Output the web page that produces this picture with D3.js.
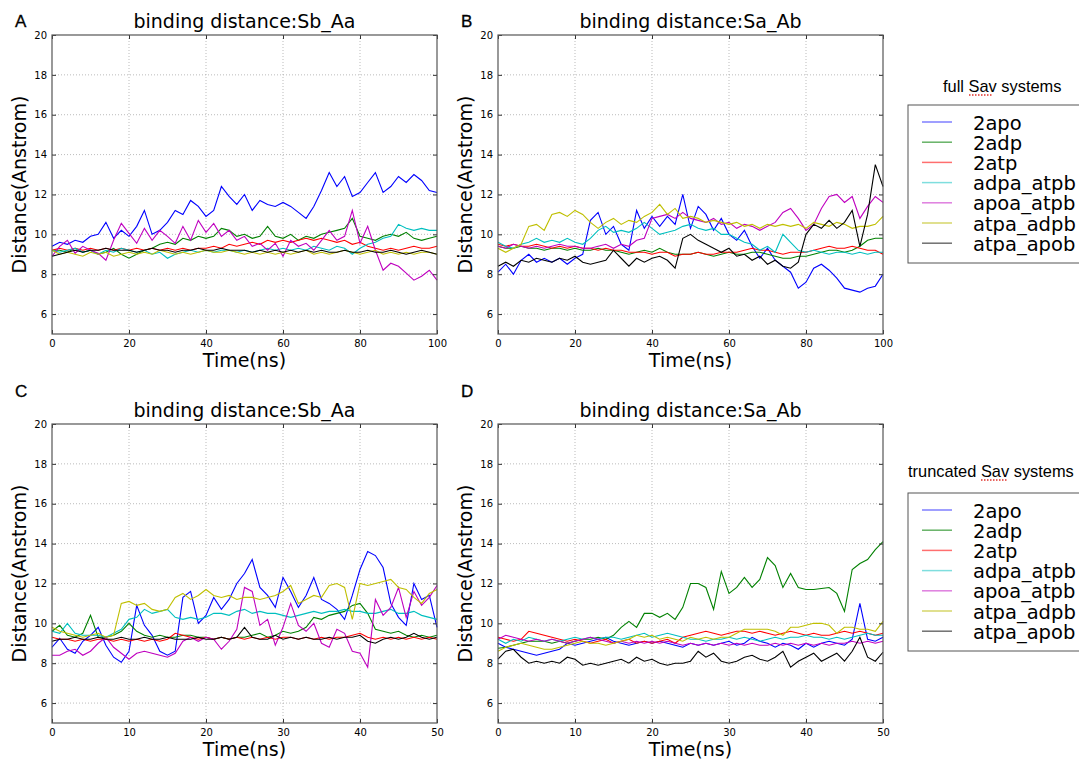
<!DOCTYPE html>
<html>
<head>
<meta charset="utf-8">
<script src="https://cdn.jsdelivr.net/npm/d3@7"></script>
<style>
  body { margin: 0; background: #fff; }
  svg text { font-family: "DejaVu Sans", sans-serif; fill: #000; }
  .letter { font-family: "Liberation Sans", Arial, sans-serif; font-size: 17px; stroke: #000; stroke-width: 0.3px; }
  .legtitle { font-family: "Liberation Sans", Arial, sans-serif; font-size: 16.4px; }
</style>
</head>
<body>
<div id="chart"></div>
<script>

var seriesNames = ["2apo", "2adp", "2atp", "adpa_atpb", "apoa_atpb", "atpa_adpb", "atpa_apob"];
var colors = ["#0000ff", "#008000", "#ff0000", "#00bfbf", "#bf00bf", "#bfbf00", "#000000"];
var legendColors = ["#7f7fff", "#66b266", "#ff6f6f", "#7fdede", "#df7fdf", "#d6d66a", "#6f6f6f"];

var yTicks = [6, 8, 10, 12, 14, 16, 18, 20];
var xTicksFull = [0, 20, 40, 60, 80, 100];
var xTicksTrunc = [0, 10, 20, 30, 40, 50];

// sample times: every 2 ns for the 100 ns runs, every 1 ns for the 50 ns runs
var timeFull = d3.range(0, 101, 2);
var timeTrunc = d3.range(0, 51, 1);

// A: full Sav, Sb_Aa
var A_2apo = [9.4,9.6,9.5,9.7,9.6,9.9,10.0,10.6,9.8,10.2, 9.9,10.4,11.2,10.0,10.2,10.6,11.2,11.0,11.7,11.4, 10.9,11.2,12.4,11.9,11.5,12.0,11.2,11.7,11.5,11.4, 11.6,11.4,11.1,10.8,11.4,12.2,13.1,12.4,12.9,11.9, 12.1,12.6,13.1,12.1,12.4,12.9,12.6,13.0,12.7,12.2,12.1];
var A_2adp = [9.2,9.2,9.1,9.3,9.1,9.2,9.0,9.1,9.3,9.0, 8.8,9.0,9.2,9.3,9.5,9.6,9.5,9.8,9.7,9.9, 9.8,9.9,10.3,10.2,9.9,10.0,9.8,9.9,10.4,9.9, 9.8,10.0,9.7,9.9,9.8,10.0,10.1,10.2,10.3,10.8, 9.9,9.8,9.7,9.9,10.0,9.9,10.1,9.8,9.7,9.8,9.9];
var A_2atp = [9.2,9.3,9.2,9.3,9.2,9.3,9.2,9.3,9.2,9.3, 9.2,9.3,9.2,9.3,9.2,9.3,9.2,9.3,9.2,9.3, 9.3,9.4,9.3,9.5,9.4,9.5,9.6,9.5,9.7,9.6, 9.7,9.6,9.7,9.8,9.7,9.8,9.7,9.6,9.7,9.5, 9.6,9.4,9.3,9.2,9.3,9.2,9.3,9.4,9.3,9.3,9.4];
var A_adpa = [9.2,9.1,9.2,9.3,9.1,9.2,9.0,9.2,9.1,9.3, 9.2,9.1,9.2,9.0,9.1,8.8,9.0,9.1,9.2,9.1, 9.2,9.1,9.2,9.2,9.1,9.2,9.1,9.2,9.3,9.2, 9.3,9.2,9.3,9.2,9.4,9.3,9.2,9.4,9.3,9.0, 9.3,9.5,9.6,9.8,9.9,10.5,10.3,10.2,10.3,10.2,10.2];
var A_apoa = [8.9,9.4,9.7,9.05,9.4,9.2,9.05,8.7,9.7,10.55, 10.05,9.55,10.3,9.7,10.2,9.9,9.55,10.4,9.7,10.7, 10.1,10.55,9.9,10.2,9.7,9.9,9.4,9.55,9.2,9.55, 8.9,9.7,9.4,9.55,9.2,9.7,10.2,9.7,9.9,11.2, 9.55,10.4,9.2,8.2,8.55,8.4,8.05,7.7,7.9,8.2,7.7];
var A_atpadp = [9.2,9.0,9.1,9.0,8.9,9.1,9.0,9.1,8.9,9.0, 9.1,9.0,9.1,9.0,9.2,9.1,9.0,9.1,9.0,9.1, 9.2,9.1,9.1,9.2,9.1,9.0,9.1,9.0,9.1,9.0, 9.1,9.0,9.1,9.2,9.0,9.1,9.0,9.1,9.2,9.1, 9.0,9.1,9.2,9.0,9.1,9.0,9.1,9.0,9.1,9.1,9.0];
var A_atpapo = [8.9,9.0,9.1,9.2,9.1,9.2,9.2,9.3,9.2,9.2, 9.2,9.1,9.2,9.3,9.2,9.2,9.1,9.2,9.2,9.3, 9.2,9.2,9.3,9.2,9.2,9.2,9.1,9.2,9.1,9.2, 9.1,9.2,9.1,9.2,9.1,9.2,9.1,9.1,9.2,9.1, 9.1,9.2,9.1,9.1,9.2,9.1,9.0,9.1,9.2,9.1,9.0];

// B: full Sav, Sa_Ab
var B_2apo = [8.1,8.5,8.0,8.7,9.0,8.6,8.8,8.6,8.8,8.5, 8.8,9.0,10.7,11.1,10.0,10.4,9.5,9.2,11.2,10.3, 10.9,10.4,10.9,10.5,12.0,10.3,11.4,11.0,10.2,10.8, 10.0,9.7,10.2,9.4,8.8,9.3,8.7,8.4,8.1,7.3, 7.6,8.3,8.5,8.2,7.8,7.3,7.2,7.1,7.3,7.4,8.0];
var B_2adp = [9.4,9.3,9.3,9.4,9.3,9.3,9.2,9.3,9.3,9.2, 9.3,9.2,9.2,9.3,9.2,9.2,9.1,9.0,9.1,9.2, 9.1,9.3,9.1,9.0,9.0,9.0,9.1,9.0,8.9,9.0, 9.1,9.0,9.0,9.1,9.1,9.0,8.9,8.8,8.8,8.9, 8.9,9.0,9.1,9.2,9.2,9.1,9.2,9.4,9.7,9.8,9.8];
var B_2atp = [9.5,9.4,9.5,9.4,9.4,9.5,9.4,9.3,9.4,9.3, 9.4,9.3,9.3,9.2,9.3,9.2,9.2,9.1,9.1,9.1, 9.0,9.1,9.1,8.9,9.0,9.0,9.1,9.0,9.0,9.1, 9.1,9.1,9.2,9.3,9.2,9.2,9.1,9.0,9.1,9.1, 9.1,9.2,9.3,9.4,9.3,9.3,9.4,9.3,9.2,9.2,9.0];
var B_adpa = [9.6,9.4,9.3,9.5,9.6,9.8,9.6,9.7,9.6,9.8, 9.6,9.5,9.8,10.2,10.4,10.1,10.2,10.1,10.3,10.6, 10.3,10.0,10.1,10.2,10.4,10.5,10.3,10.2,10.3,10.0, 10.0,9.8,9.6,9.5,9.2,9.4,9.1,10.0,9.6,9.2, 9.1,9.2,9.1,9.0,9.1,9.1,9.0,9.1,9.0,9.1,9.1];
var B_apoa = [9.4,9.3,9.5,9.4,9.3,9.4,9.3,9.4,9.5,9.4, 9.4,9.3,9.3,9.4,9.5,9.3,9.5,9.4,9.7,9.8, 10.8,10.9,11.0,10.8,11.1,10.8,10.7,10.6,10.8,10.5, 10.6,10.3,10.5,10.4,10.2,10.4,10.6,11.1,11.3,10.8, 10.2,10.5,11.3,11.9,12.0,11.6,11.9,10.8,11.4,11.9,11.6];
var B_atpadp = [9.3,9.1,9.3,9.5,10.4,10.5,10.2,11.0,11.1,10.9, 11.2,11.0,10.6,10.3,10.6,10.8,10.5,10.7,10.6,10.9, 11.1,11.5,11.0,11.3,10.8,10.9,10.8,10.6,10.7,10.6, 10.5,10.6,10.4,10.5,10.3,10.5,10.4,10.5,10.4,10.5, 10.3,10.6,10.5,10.4,10.6,10.5,10.3,10.4,10.4,10.5,10.9];
var B_atpapo = [8.4,8.6,8.4,8.7,8.6,8.8,8.7,8.6,8.8,8.7, 8.9,8.6,8.5,8.6,8.7,9.2,8.8,8.4,8.8,8.6, 8.8,8.9,8.7,8.3,9.8,10.0,9.7,9.5,9.3,9.1, 9.3,8.9,9.0,8.7,8.9,8.5,8.7,8.4,8.3,8.6, 10.0,10.5,10.3,10.7,10.3,10.6,11.2,9.4,11.0,13.5,12.4];

// C: truncated Sav, Sb_Aa
var C_2apo = [8.8,9.25,8.7,8.5,9.1,9.4,9.8,8.9,8.3,8.05, 8.6,10.9,9.9,9.4,8.6,8.4,8.6,11.3,11.6,10.0, 10.4,11.3,10.7,11.2,12.0,12.5,13.2,11.8,11.4,10.8, 12.3,11.6,10.8,11.4,12.3,11.2,11.0,10.7,10.2,11.4, 12.7,13.6,13.4,12.8,11.0,10.3,9.9,12.0,11.2,11.4,9.8];
var C_2adp = [9.6,9.9,9.4,9.3,9.5,10.4,9.3,9.3,9.4,9.6, 10.0,9.6,9.4,9.3,9.4,9.3,9.3,9.4,9.4,9.3, 9.3,9.2,9.3,9.2,9.3,9.3,9.4,9.5,9.3,9.4, 9.6,9.5,9.6,9.8,10.3,10.2,10.4,10.5,10.6,10.9, 11.0,10.5,9.7,9.6,9.5,9.6,9.4,9.3,9.4,9.3,9.4];
var C_2atp = [9.3,9.2,9.2,9.1,9.2,9.1,9.2,9.2,9.1,9.2, 9.1,9.2,9.1,9.2,9.1,9.2,9.5,9.4,9.3,9.2, 9.3,9.2,9.3,9.2,9.3,9.2,9.3,9.2,9.3,9.2, 9.3,9.3,9.2,9.3,9.2,9.3,9.2,9.3,9.3,9.4, 9.5,9.3,9.2,9.3,9.2,9.3,9.2,9.3,9.2,9.3,9.2];
var C_adpa = [9.6,9.5,10.0,9.5,9.4,9.4,9.4,9.3,9.5,9.7, 10.2,10.3,10.7,10.5,10.6,10.7,10.3,10.2,10.3,10.2, 10.3,10.5,10.5,10.4,10.6,10.7,10.5,10.6,10.5,10.5, 10.4,10.3,10.4,10.5,10.6,10.5,10.6,10.6,10.7,10.6, 10.6,10.5,10.5,10.6,10.7,10.5,10.5,10.6,10.4,10.3,10.2];
var C_apoa = [8.4,8.4,8.6,8.7,8.4,8.6,9.0,9.3,8.8,8.5, 8.2,8.5,8.6,8.5,8.4,8.3,8.5,9.1,9.3,9.1, 9.3,9.2,8.7,9.1,9.7,11.8,11.6,9.9,10.2,8.9, 9.8,11.0,9.9,9.6,10.0,9.0,8.8,9.7,9.5,8.6, 8.5,7.8,11.2,10.4,10.8,11.8,10.3,11.6,10.9,11.3,11.9];
var C_atpadp = [9.8,9.6,9.5,9.4,9.3,9.4,9.5,9.3,9.4,11.0, 11.1,10.9,11.0,10.7,10.6,10.7,11.3,11.5,11.2,11.4, 11.7,11.4,11.3,11.4,11.2,11.3,11.3,11.2,11.3,11.4, 11.6,11.9,11.0,11.2,11.4,11.3,11.9,12.0,11.8,10.2, 12.0,11.9,12.0,12.1,12.2,11.8,11.7,11.3,11.0,11.5,11.7];
var C_atpapo = [9.1,9.2,9.2,9.3,9.2,9.2,9.3,9.2,9.2,9.3, 9.2,9.2,9.3,9.2,9.2,9.3,9.2,9.2,9.2,9.3, 9.2,9.2,9.3,9.2,9.3,9.8,9.3,9.2,9.2,9.4, 9.2,9.3,9.2,9.3,9.2,9.2,9.3,9.2,9.3,9.3, 9.4,9.1,9.0,9.2,9.3,9.2,9.3,9.5,9.3,9.2,9.3];

// D: truncated Sav, Sa_Ab
var D_2apo = [9.0,8.8,8.7,8.6,8.5,8.4,8.5,8.6,8.7,9.0, 8.9,9.0,9.1,9.2,9.3,9.1,9.0,8.9,9.0,9.1, 9.0,9.1,9.0,8.9,8.8,9.0,8.9,9.0,8.9,9.0, 9.1,8.9,9.0,9.3,9.1,9.0,8.8,9.0,8.9,8.7, 9.0,8.8,9.0,9.1,9.0,8.9,9.2,11.0,9.2,9.1,9.3];
var D_2adp = [8.75,8.8,8.9,9.0,9.1,9.1,9.1,9.0,9.1,9.0, 9.1,9.2,9.2,9.3,9.2,9.4,9.8,10.1,9.8,10.5, 10.5,10.3,10.5,10.2,10.8,12.0,12.0,11.8,10.7,12.6, 11.5,11.8,12.3,11.8,12.2,13.3,12.9,11.8,12.5,11.8, 11.7,11.7,11.75,11.8,11.5,10.6,12.7,13.0,13.2,13.7,14.1];
var D_2atp = [9.3,9.2,9.1,9.2,9.6,9.5,9.4,9.3,9.2,9.1, 9.2,9.1,9.0,9.1,9.2,9.0,9.1,9.2,9.0,9.1, 9.0,9.1,9.2,9.0,9.3,9.4,9.5,9.6,9.5,9.4, 9.5,9.6,9.6,9.5,9.6,9.5,9.4,9.5,9.6,9.5, 9.4,9.5,9.4,9.4,9.5,9.6,9.5,9.6,9.5,9.4,9.5];
var D_adpa = [9.2,9.0,9.2,9.1,9.3,9.2,9.1,9.2,9.1,9.2, 9.3,9.2,9.3,9.2,9.3,9.3,9.2,9.3,9.4,9.5, 9.3,9.4,9.5,9.4,9.3,9.2,9.2,9.1,9.2,9.2, 9.3,9.2,9.3,9.2,9.1,9.2,9.3,9.2,9.3,9.3, 9.4,9.3,9.3,9.2,9.3,9.2,9.3,9.4,9.5,9.4,9.4];
var D_apoa = [9.2,9.4,9.3,9.2,9.1,9.2,9.1,9.2,9.1,9.0, 9.1,9.2,9.3,9.2,9.1,9.0,9.1,9.0,9.1,9.0, 9.1,9.0,9.1,9.0,8.9,9.0,8.9,9.0,8.9,9.0, 8.9,9.0,8.9,9.0,8.9,8.9,9.0,8.9,9.0,8.9, 9.0,8.9,9.0,8.9,9.0,9.0,9.1,9.0,9.1,9.0,9.1];
var D_atpadp = [8.6,8.8,8.9,9.0,8.9,8.8,8.7,8.7,8.8,8.9, 9.0,9.1,9.0,9.0,8.9,9.0,9.1,9.2,9.4,9.3, 9.4,9.2,9.3,9.2,9.1,9.3,9.2,9.3,9.2,9.3, 9.3,9.5,9.7,9.7,9.7,9.7,9.6,9.4,9.8,9.8, 9.9,10.0,10.0,9.9,9.5,9.8,9.8,9.7,9.7,9.6,10.1];
var D_atpapo = [8.2,8.6,8.7,8.3,8.0,8.1,8.0,8.1,8.0,8.3, 8.2,7.9,8.0,7.9,8.0,8.1,8.2,8.0,8.3,8.1, 8.2,8.0,7.9,8.0,8.0,8.1,8.6,8.3,8.5,8.1, 8.0,8.1,8.3,8.4,8.2,8.1,8.3,8.6,7.8,8.1, 8.3,8.5,8.1,8.3,8.5,8.1,8.6,9.3,8.3,8.1,8.55];

var panels = [
  { letter: "A", title: "binding distance:Sb_Aa", left: 52,  top: 35,  time: timeFull,  xTicks: xTicksFull,
    series: [A_2apo, A_2adp, A_2atp, A_adpa, A_apoa, A_atpadp, A_atpapo] },
  { letter: "B", title: "binding distance:Sa_Ab", left: 498, top: 35,  time: timeFull,  xTicks: xTicksFull,
    series: [B_2apo, B_2adp, B_2atp, B_adpa, B_apoa, B_atpadp, B_atpapo] },
  { letter: "C", title: "binding distance:Sb_Aa", left: 52,  top: 424, time: timeTrunc, xTicks: xTicksTrunc,
    series: [C_2apo, C_2adp, C_2atp, C_adpa, C_apoa, C_atpadp, C_atpapo] },
  { letter: "D", title: "binding distance:Sa_Ab", left: 498, top: 424, time: timeTrunc, xTicks: xTicksTrunc,
    series: [D_2apo, D_2adp, D_2atp, D_adpa, D_apoa, D_atpadp, D_atpapo] }
];

var width = 1079, height = 760;
var plotW = 385, plotH = 299;

var svg = d3.select("#chart").append("svg")
    .attr("width", width)
    .attr("height", height);

panels.forEach(function(p) {
  var g = svg.append("g")
      .attr("transform", "translate(" + p.left + "," + p.top + ")");

  var x = d3.scaleLinear().domain([p.time[0], p.time[p.time.length - 1]]).range([0, plotW]);
  var y = d3.scaleLinear().domain([5, 20]).range([plotH, 0]);

  // dotted grid
  g.selectAll(".gx").data(p.xTicks.slice(1, -1)).enter().append("line")
      .attr("x1", function(d) { return x(d); }).attr("x2", function(d) { return x(d); })
      .attr("y1", 0).attr("y2", plotH)
      .attr("stroke", "#aaa").attr("stroke-width", 0.8).attr("stroke-dasharray", "1,2");
  g.selectAll(".gy").data(yTicks.slice(0, -1)).enter().append("line")
      .attr("x1", 0).attr("x2", plotW)
      .attr("y1", function(d) { return y(d); }).attr("y2", function(d) { return y(d); })
      .attr("stroke", "#aaa").attr("stroke-width", 0.8).attr("stroke-dasharray", "1,2");

  // series
  var line = d3.line()
      .x(function(d, i) { return x(p.time[i]); })
      .y(function(d) { return y(d); });

  g.selectAll(".series").data(p.series).enter().append("path")
      .attr("class", "series")
      .attr("d", line)
      .attr("fill", "none")
      .attr("stroke", function(d, i) { return colors[i]; })
      .attr("stroke-width", 1.1);

  // axes, ticks pointing in on all four sides
  var ax = [
    g.append("g").attr("transform", "translate(0," + plotH + ")")
      .call(d3.axisBottom(x).tickValues(p.xTicks).tickSizeInner(-4).tickSizeOuter(0).tickPadding(6)),
    g.append("g")
      .call(d3.axisLeft(y).tickValues(yTicks).tickSizeInner(-4).tickSizeOuter(0).tickPadding(5)),
    g.append("g")
      .call(d3.axisTop(x).tickValues(p.xTicks).tickSizeInner(-4).tickSizeOuter(0).tickFormat("")),
    g.append("g").attr("transform", "translate(" + plotW + ",0)")
      .call(d3.axisRight(y).tickValues(yTicks).tickSizeInner(-4).tickSizeOuter(0).tickFormat(""))
  ];
  ax.forEach(function(a) {
    a.select(".domain").remove();
    a.selectAll(".tick line").attr("stroke", "#333");
    a.selectAll(".tick text").attr("fill", "#222").style("font-family", "'DejaVu Sans', sans-serif").style("font-size", "10px");
  });

  g.append("rect")
      .attr("width", plotW).attr("height", plotH)
      .attr("fill", "none").attr("stroke", "#555").attr("stroke-width", 1.2);

  g.append("text")
      .attr("x", plotW / 2).attr("y", -7)
      .attr("text-anchor", "middle")
      .style("font-size", "19px")
      .text(p.title);

  g.append("text")
      .attr("x", plotW / 2).attr("y", plotH + 33)
      .attr("text-anchor", "middle")
      .style("font-size", "19px")
      .text("Time(ns)");

  g.append("text")
      .attr("transform", "translate(-26," + (plotH / 2) + ") rotate(-90)")
      .attr("text-anchor", "middle")
      .style("font-size", "19px")
      .text("Distance(Anstrom)");

  g.append("text")
      .attr("class", "letter")
      .attr("x", -37).attr("y", p.top < 100 ? -8 : -27)
      .text(p.letter);
});

/* Legends */

var legends = [
  { title: "full Sav systems", tx: 943, ty: 92, squiggle: [969, 993], boxTop: 105 },
  { title: "truncated Sav systems", tx: 908, ty: 477, squiggle: [981, 1007], boxTop: 493 }
];

legends.forEach(function(l) {
  svg.append("text")
      .attr("class", "legtitle")
      .attr("x", l.tx).attr("y", l.ty)
      .text(l.title);

  svg.append("line")
      .attr("x1", l.squiggle[0]).attr("x2", l.squiggle[1])
      .attr("y1", l.ty + 3).attr("y2", l.ty + 3)
      .attr("stroke", "#e0302a").attr("stroke-width", 1.5)
      .attr("stroke-dasharray", "1.5,1.5");

  var lg = svg.append("g")
      .attr("transform", "translate(908," + l.boxTop + ")");

  lg.append("rect")
      .attr("width", 200).attr("height", 158)
      .attr("fill", "#fff").attr("stroke", "#555").attr("stroke-width", 1);

  var rows = lg.selectAll(".row").data(seriesNames).enter().append("g")
      .attr("transform", function(d, i) { return "translate(0," + (17 + i * 20.2) + ")"; });

  rows.append("line")
      .attr("x1", 14).attr("x2", 44)
      .attr("stroke", function(d, i) { return legendColors[i]; })
      .attr("stroke-width", 1.5);

  rows.append("text")
      .attr("x", 65).attr("y", 7.5)
      .style("font-size", "19.5px")
      .text(function(d) { return d; });
});

</script>
</body>
</html>
